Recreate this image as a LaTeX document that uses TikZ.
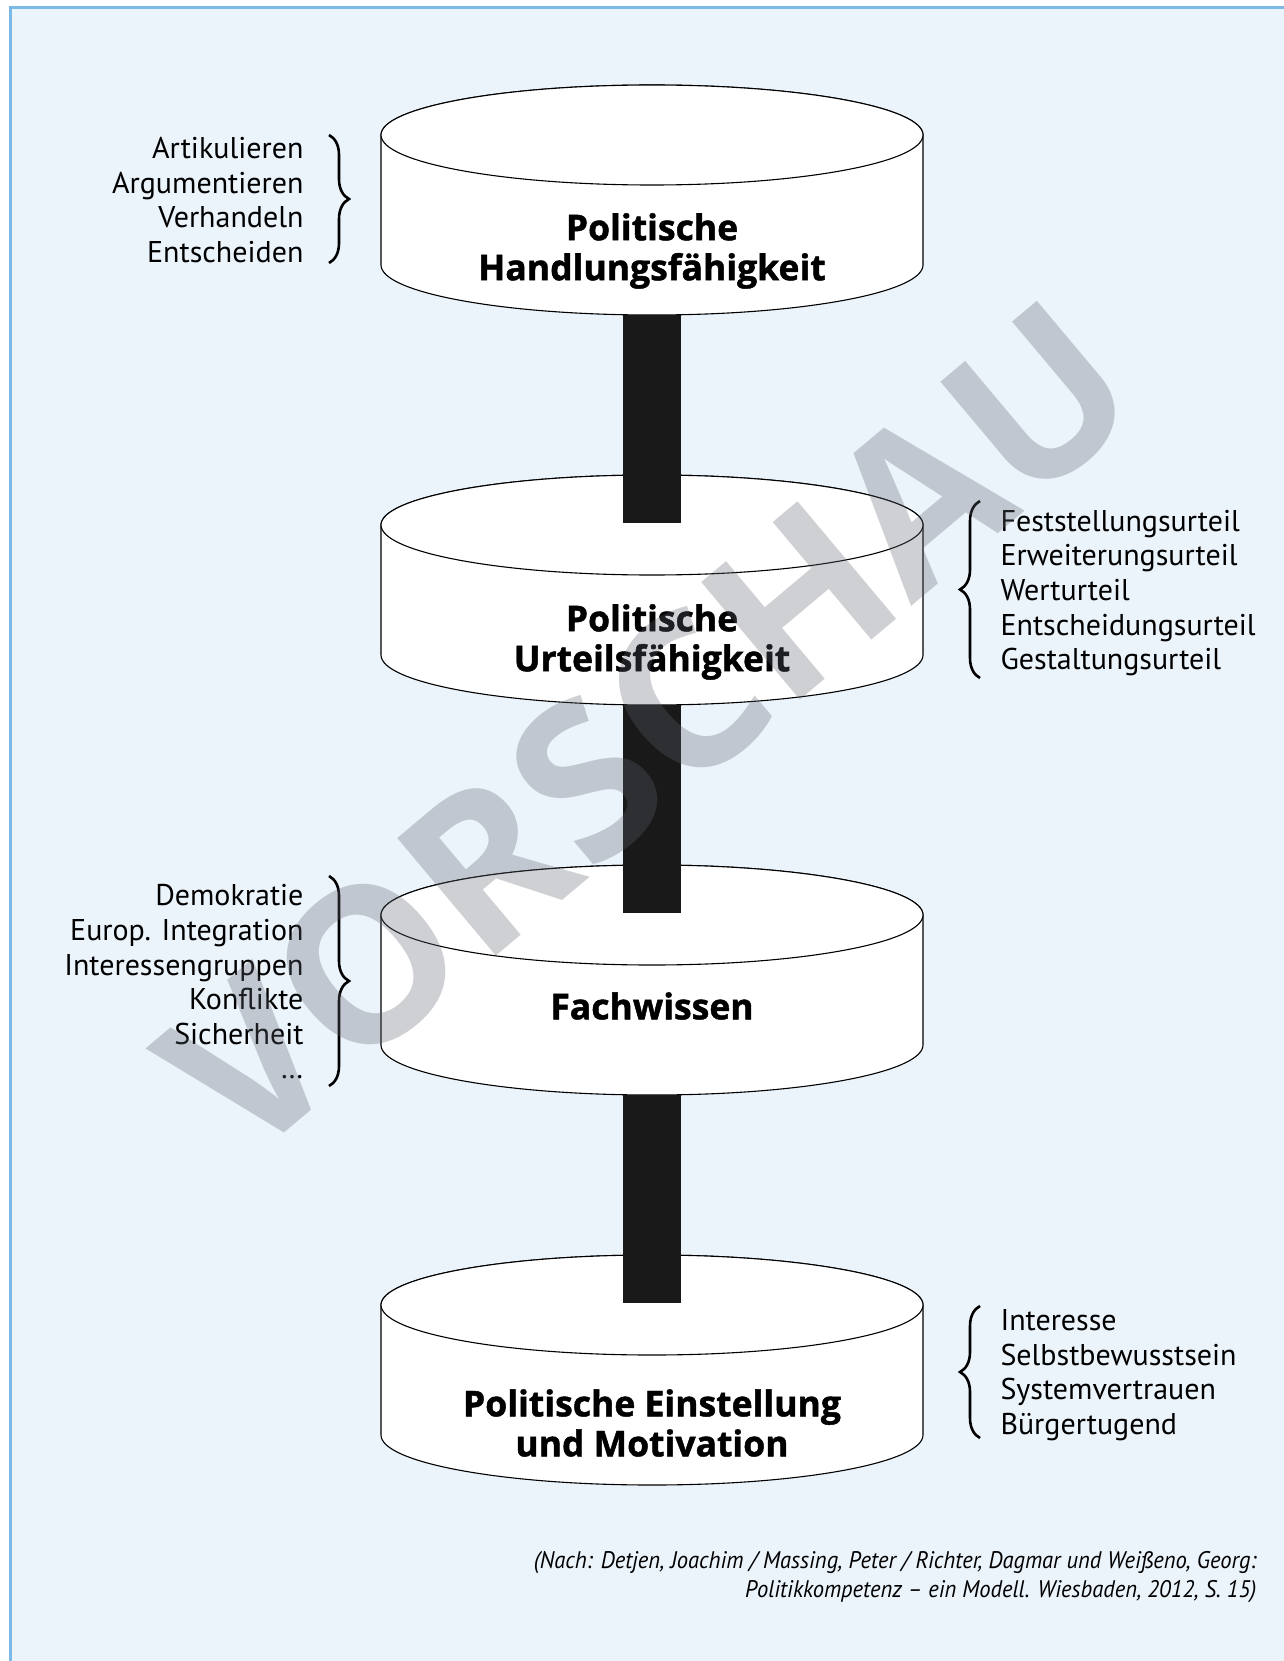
\documentclass[tikz,border=0pt]{standalone}
\usepackage{fontspec}
\setmainfont{PT Sans}
\newfontfamily\titelfont[BoldFeatures={FakeBold=1.3}]{Open Sans}
\newfontfamily\zeichenfont{Open Sans}
\usetikzlibrary{decorations.pathreplacing}
\definecolor{bgblue}{RGB}{235,243,251}
\definecolor{frameblue}{RGB}{125,185,230}
\definecolor{wmgray}{RGB}{95,100,110}
\tikzset{
  walze/.style={fill=white, draw=black, line width=1.1pt},
  titel/.style={font=\titelfont\bfseries\fontsize{35.5}{40}\selectfont, align=center},
  liste/.style={font=\fontsize{30}{34.6}\selectfont},
  klammer/.style={decorate, decoration={brace, amplitude=20pt}, line width=2.6pt},
  saeule/.style={draw=black!90, line width=58pt},
}
\begin{document}
\begin{tikzpicture}[x=1pt, y=-1pt]
\useasboundingbox (0,0) rectangle (1283,1661);
% Hintergrund und Rahmen
\fill[bgblue] (10,8) rectangle (1300,1680);
\draw[frameblue, line width=3pt] (10,1680) -- (10,8) -- (1300,8);

% vier Walzen
\foreach \k in {1,2,3,4}{
  \pgfmathsetmacro{\cy}{135+390*(\k-1)}
  \filldraw[walze] (381,\cy) -- ++(0,130) arc[start angle=180, end angle=0, x radius=271, y radius=50]
     -- ++(0,-130) arc[start angle=0, end angle=-180, x radius=271, y radius=50] -- cycle;
  \filldraw[walze] (652,\cy) ellipse[x radius=271, y radius=50];
  \coordinate (o\k) at (652,\cy-2);
  \coordinate (u\k) at (652,\cy+180);
}

% Verbindungen
\draw[saeule] (u1) -- (o2);
\draw[saeule] (u2) -- (o3);
\draw[saeule] (u3) -- (o4);

\node[titel] (handeln) at (652,251) {Politische\\Handlungsfähigkeit};
\node[titel] (urteil) at (652,642) {Politische\\Urteilsfähigkeit};
\node[titel] (wissen) at (652,1006) {Fachwissen};
\node[titel] (motiv) at (652,1423) {Politische Einstellung\\und Motivation};

% Listen
\node[liste, anchor=east, align=right] (l1) at (307,200) {Artikulieren\\Argumentieren\\Verhandeln\\Entscheiden};
\node[liste, anchor=west, align=left] (l2) at (997,593) {Feststellungsurteil\\Erweiterungsurteil\\Werturteil\\Entscheidungsurteil\\Gestaltungsurteil};
\node[liste, anchor=east, align=right] (l3) at (307,982) {Demokratie\\Europ. Integration\\Interessengruppen\\Konflikte\\Sicherheit\\\dots};
\node[liste, anchor=west, align=left] (l4) at (997,1375) {Interesse\\Selbstbewusstsein\\Systemvertrauen\\Bürgertugend};

\draw[klammer] (329,135) -- (329,263);
\draw[klammer] (980,678) -- (980,501);
\draw[klammer] (329,876) -- (329,1086);
\draw[klammer] (980,1438) -- (980,1306);

% Quelle
\node[anchor=east, font=\itshape\fontsize{24}{29}\selectfont] (quelle) at (1260,1577)
  {\scalebox{0.94}[1]{\begin{tabular}{@{}r@{}}(Nach: Detjen, Joachim / Massing, Peter / Richter, Dagmar und Weißeno, Georg:\\
   Politikkompetenz -- ein Modell. Wiesbaden, 2012, S. 15)\end{tabular}}};

% Wasserzeichen
\node[rotate=40, font=\zeichenfont\bfseries\fontsize{215}{215}\selectfont, text=wmgray, opacity=0.3] (wz) at (648,728) {VORSCHAU};
\end{tikzpicture}
\end{document}
